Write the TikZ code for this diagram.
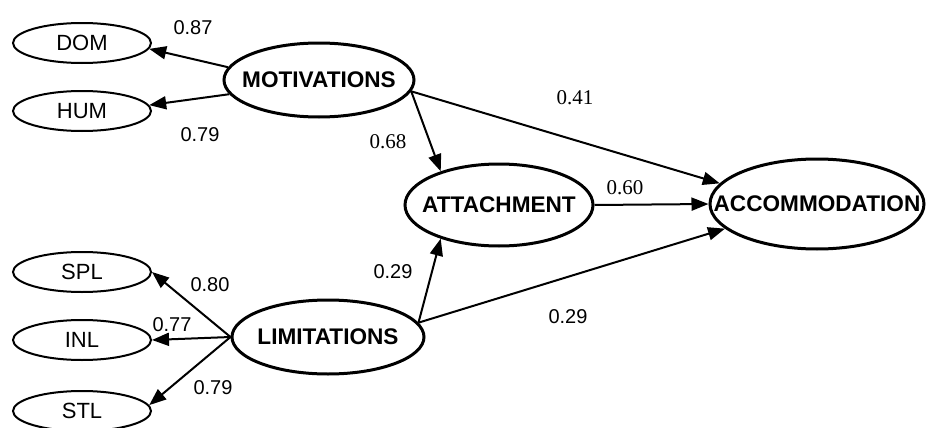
\documentclass[tikz,border=0pt]{standalone}
\usepackage{fontspec}
\setmainfont{Liberation Sans}
\newfontfamily\tnr{Liberation Serif}
\usetikzlibrary{shapes.geometric,arrows.meta}
\begin{document}
\begin{tikzpicture}[x=0.5pt,y=-0.5pt,
		obs/.style={ellipse, draw, line width=1pt, inner sep=0pt, minimum width=69pt, minimum height=20pt, font=\fontsize{11}{13}\selectfont},
		lat/.style={ellipse, draw, line width=1.5pt, inner xsep=-30pt, inner ysep=0pt, font=\fontsize{11.3}{13}\selectfont\bfseries},
		arr/.style={-{Triangle[length=8.5pt,width=6.5pt]}, line width=1pt},
		lbl/.style={font=\fontsize{10}{12}\selectfont},
		lbls/.style={font=\tnr\fontsize{10.5}{12}\selectfont}]
	\useasboundingbox (0,0) rectangle (927,428);
	\fill[white] (0,0) rectangle (927,428);
	% indicators
	\node[obs] (dom) at (82,43) {DOM};
	\node[obs] (hum) at (82,111) {HUM};
	\node[obs] (spl) at (82,272) {SPL};
	\node[obs] (inl) at (82,340) {INL};
	\node[obs] (stl) at (82,411) {STL};
	% latent variables
	\node[lat, minimum width=95pt, minimum height=37pt] (mot) at (319,80) {MOTIVATIONS};
	\node[lat, minimum width=94pt, minimum height=41pt] (att) at (499,205) {ATTACHMENT};
	\node[lat, minimum width=107pt, minimum height=45pt] (acc) at (817,204) {ACCOMMODATION};
	\node[lat, minimum width=96pt, minimum height=37pt] (lim) at (328,337) {LIMITATIONS};
	% paths
	\draw[arr] (mot.172) -- (dom.-5);
	\draw[arr] (mot.189) -- (hum.5);
	\draw[arr] (mot.-7) -- (att.150);
	\draw[arr] (mot.-7) -- (acc.168);
	\draw[arr] (att.east) -- (acc.west);
	\draw[arr] (lim.9) -- (att.210);
	\draw[arr] (lim.9) -- (acc.195);
	\draw[arr] (lim.west) -- (spl.east);
	\draw[arr] (lim.west) -- (inl.east);
	\draw[arr] (lim.west) -- (stl.5);
	% coefficients
	\node[lbl] (cdom) at (193,28) {0.87};
	\node[lbl] (chum) at (200,135) {0.79};
	\node[lbls] (cmotatt) at (388,142) {0.68};
	\node[lbls] (cmotacc) at (575,98) {0.41};
	\node[lbls] (cattacc) at (625,188) {0.60};
	\node[lbl] (climatt) at (393,272) {0.29};
	\node[lbl] (climacc) at (568,317) {0.29};
	\node[lbl] (cspl) at (210,285) {0.80};
	\node[lbl] (cinl) at (172,325) {0.77};
	\node[lbl] (cstl) at (213,388) {0.79};
\end{tikzpicture}
\end{document}
